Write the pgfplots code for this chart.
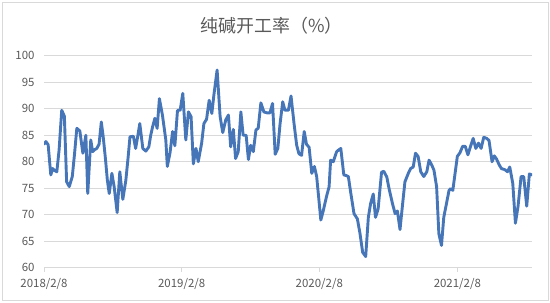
\documentclass[border=0pt]{standalone}
\usepackage{pgfplots}
\pgfplotsset{compat=1.18}
\usepackage{fontspec}
\setmainfont{Noto Sans CJK SC}
\definecolor{txt}{HTML}{595959}
\definecolor{grd}{HTML}{D9D9D9}
\definecolor{ln}{HTML}{4676B8}
\begin{document}
\begin{tikzpicture}[x=1bp,y=1bp]
\path[use as bounding box] (0,0) rectangle (550,302);
\draw[grd, line width=0.8bp] (2,2) rectangle (548,300);
\node[txt, font=\fontsize{18}{20}\selectfont] at (271.5,276.5) {纯碱开工率（\%）};
\begin{axis}[
  at={(44bp,34.3bp)}, anchor=south west,
  width=488bp, height=212bp, scale only axis,
  xmin=0, xmax=1294, ymin=60, ymax=100,
  xtick={0,365,730,1096},
  xticklabels={2018/2/8,2019/2/8,2020/2/8,2021/2/8},
  ytick={60,65,...,100},
  ymajorgrids, grid style={grd, line width=0.8bp},
  axis line style={draw=none},
  xtick pos=left, xtick align=outside, major tick length=4bp,
  xtick style={grd, line width=0.8bp},
  ytick style={draw=none},
  tick label style={txt, font=\fontsize{11.5}{13}\selectfont},
  /pgf/number format/assume math mode=true,
  yticklabel style={xshift=-6bp},
  xticklabel style={yshift=-3bp},
]
\addplot[ln, line width=2.9bp, line join=round, line cap=round] table {
x y
0 83.3
5 83.8
11 83.2
18 77.5
23 78.7
29 78.3
34 78.1
40 82.2
47 89.7
54 88.6
60 76.2
67 75.3
75 77.2
81 81.5
87 86.3
95 85.8
103 81.6
111 85.0
116 74.0
124 84.1
129 81.9
135 82.3
140 82.5
146 83.3
152 87.5
157 84.7
163 80.5
168 76.5
173 74.0
180 77.8
186 75.3
194 70.4
201 78.1
209 72.9
217 76.5
223 80.8
228 84.7
237 84.8
243 82.5
249 85.0
254 87.2
262 82.5
270 82.0
278 82.8
283 85.0
288 86.6
294 88.2
300 86.3
306 91.9
314 88.8
323 84.1
327 79.1
334 81.6
341 85.7
347 83.0
354 89.7
361 89.7
368 92.9
376 84.1
383 89.4
390 88.5
396 79.6
403 82.5
409 80.0
418 83.5
424 87.2
431 88.0
438 91.6
445 89.1
451 92.9
459 97.3
467 88.5
474 85.5
482 87.9
489 88.8
495 82.8
502 86.1
508 80.6
515 81.9
522 89.4
528 85.0
536 85.0
542 80.4
548 83.1
555 81.9
562 86.0
568 86.3
575 91.1
583 89.4
592 89.2
599 89.2
606 91.0
613 81.4
620 82.5
626 87.2
633 91.3
639 89.7
648 89.7
655 92.4
663 87.2
670 83.1
676 81.5
683 81.2
690 85.7
696 83.3
703 82.7
710 77.8
717 79.1
723 77.2
728 73.5
734 69.0
740 70.6
749 73.4
756 75.3
760 80.3
767 80.0
776 81.9
781 82.2
787 82.5
795 77.5
801 77.4
807 77.2
813 74.3
822 70.2
831 69.2
838 66.4
845 62.9
853 62.1
860 69.5
866 72.1
873 73.9
879 69.5
886 71.1
895 78.0
901 78.2
909 77.1
915 74.9
924 72.1
931 70.2
937 70.7
944 67.2
951 72.1
957 76.2
966 77.8
972 78.7
979 79.0
985 81.6
992 81.0
999 78.1
1007 77.2
1015 78.1
1021 80.3
1028 79.4
1034 78.4
1041 75.3
1047 66.4
1054 64.2
1060 69.5
1068 72.4
1074 74.6
1078 74.9
1084 74.6
1090 77.8
1096 81.0
1103 81.7
1110 82.9
1117 82.9
1124 81.3
1131 82.9
1138 84.4
1145 82.5
1152 83.5
1159 82.5
1166 84.6
1174 84.4
1180 84.0
1188 80.0
1194 81.1
1200 80.5
1207 79.4
1213 78.7
1222 78.5
1229 78.1
1235 79.0
1243 75.9
1250 68.4
1257 71.6
1265 77.2
1272 77.2
1280 71.6
1287 77.7
1294 77.5
};
\end{axis}
\end{tikzpicture}
\end{document}
